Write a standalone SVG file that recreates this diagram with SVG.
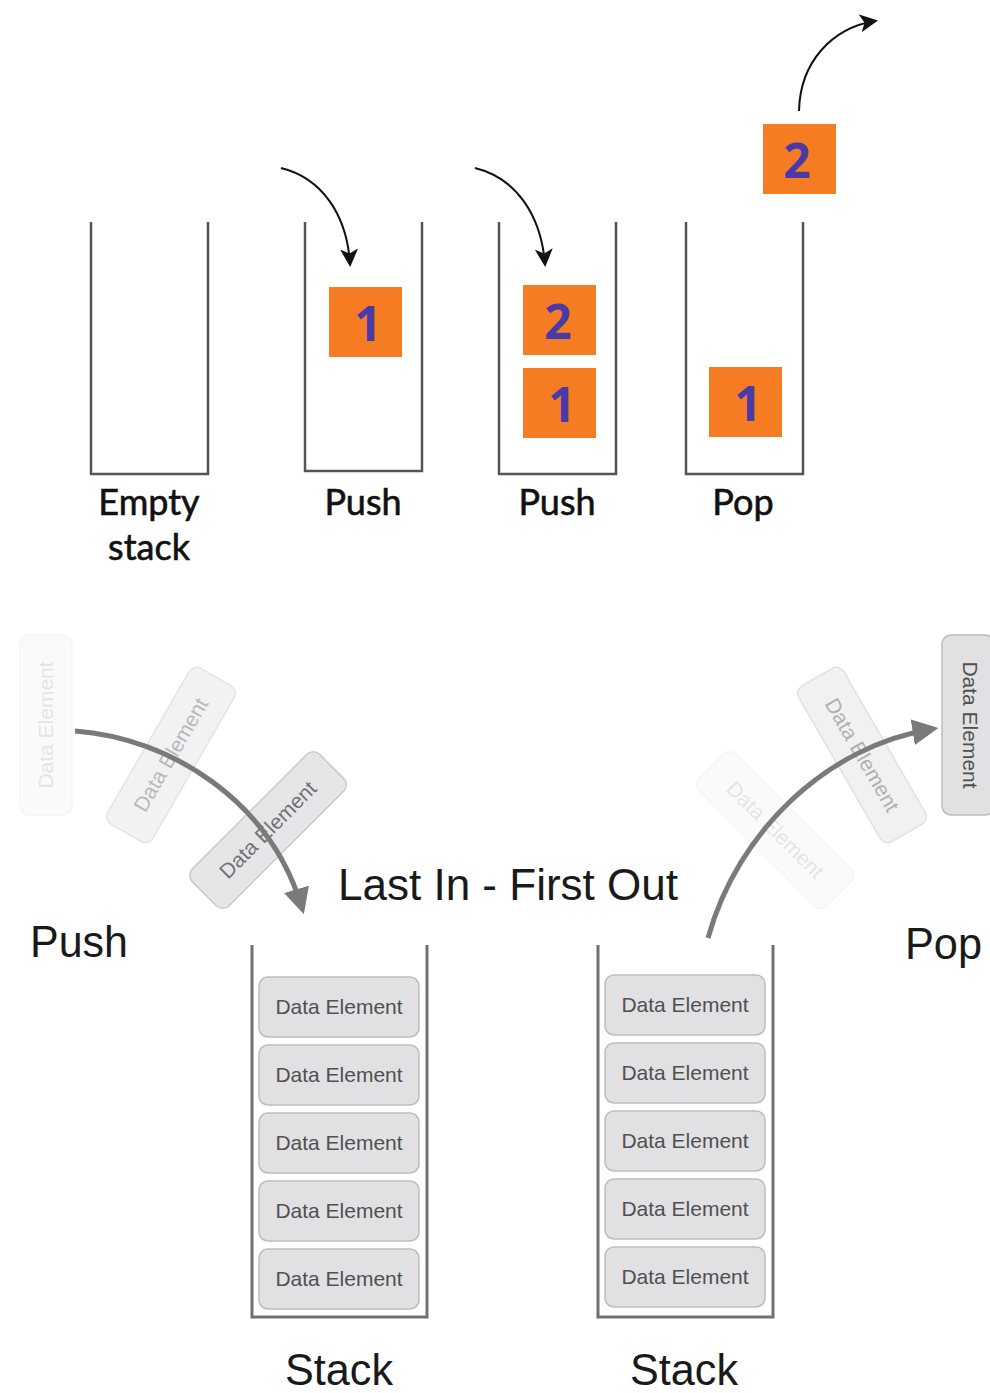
<svg xmlns="http://www.w3.org/2000/svg" width="990" height="1393" viewBox="0 0 990 1393">
  <style>
    .wall { fill: none; stroke: #555; stroke-width: 2.5; }
    .box { fill: #f57c22; }
    .num { font-family: "Open Sans", "DejaVu Sans", sans-serif; font-weight: 700; font-size: 48px; fill: #4a3aa8; text-anchor: middle; }
    .lbl { font-family: Lato, "Open Sans", sans-serif; font-size: 36px; fill: #111; text-anchor: middle; stroke: #111; stroke-width: 0.6; }
    .big { font-family: "Liberation Sans", Arial, sans-serif; font-size: 45px; fill: #1a1a1a; }
    .cont { fill: none; stroke: #707070; stroke-width: 3; }
    .el { fill: #e1e1e4; stroke: #bdbdc0; stroke-width: 1.5; }
    .elt { font-family: "Liberation Sans", Arial, sans-serif; font-size: 21px; fill: #505050; text-anchor: middle; }
    .blk { fill: none; stroke: #111; stroke-width: 2; }
    .gry { fill: none; stroke: #7a7a7a; stroke-width: 5; }
  </style>
  <defs>
    <marker id="headBlack" viewBox="0 0 12 12" refX="10" refY="6" markerWidth="18" markerHeight="18" markerUnits="userSpaceOnUse" orient="auto">
      <path d="M0,0 L12,6 L0,12 L3,6 Z" fill="#111"/>
    </marker>
    <marker id="headGray" viewBox="0 0 12 12" refX="9" refY="6" markerWidth="26" markerHeight="26" markerUnits="userSpaceOnUse" orient="auto">
      <path d="M0,0 L12,6 L0,12 Z" fill="#7a7a7a"/>
    </marker>
  </defs>

  <rect width="990" height="1393" fill="#fff"/>

  <!-- top row: four stack states -->
  <g id="empty-stack">
    <path class="wall" d="M91,222 V474 H208 V222"/>
    <text class="lbl" x="149" y="515">Empty</text>
    <text class="lbl" x="149" y="560">stack</text>
  </g>

  <g id="push-one">
    <path class="wall" d="M305,222 V471 H422 V222"/>
    <rect class="box" x="329" y="287" width="73" height="70"/>
    <text class="num" x="368" y="341">1</text>
    <text class="lbl" x="363" y="515">Push</text>
  </g>

  <g id="push-two">
    <path class="wall" d="M499,222 V474 H616 V222"/>
    <rect class="box" x="523" y="285" width="73" height="70"/>
    <text class="num" x="558" y="339">2</text>
    <rect class="box" x="523" y="368" width="73" height="70"/>
    <text class="num" x="562" y="422">1</text>
    <text class="lbl" x="557" y="515">Push</text>
  </g>

  <g id="pop-state">
    <path class="wall" d="M686,222 V474 H803 V222"/>
    <rect class="box" x="709" y="367" width="73" height="70"/>
    <text class="num" x="748" y="421">1</text>
    <rect class="box" x="763" y="124" width="73" height="70"/>
    <text class="num" x="797" y="178">2</text>
    <text class="lbl" x="743" y="515">Pop</text>
  </g>

  <!-- lower half: LIFO illustration -->
  <g id="titles">
    <text class="big" x="338" y="900" textLength="340" lengthAdjust="spacingAndGlyphs">Last In - First Out</text>
    <text class="big" x="30" y="957" textLength="98" lengthAdjust="spacingAndGlyphs">Push</text>
    <text class="big" x="905" y="959" textLength="77" lengthAdjust="spacingAndGlyphs">Pop</text>
    <text class="big" x="285" y="1385" textLength="108" lengthAdjust="spacingAndGlyphs">Stack</text>
    <text class="big" x="630" y="1385" textLength="108" lengthAdjust="spacingAndGlyphs">Stack</text>
  </g>

  <g id="stack-left">
    <path class="cont" d="M252,945 V1317 H427 V945"/>
    <rect class="el" x="259" y="977" width="160" height="60" rx="9"/>
    <text class="elt" x="339" y="1014">Data Element</text>
    <rect class="el" x="259" y="1045" width="160" height="60" rx="9"/>
    <text class="elt" x="339" y="1082">Data Element</text>
    <rect class="el" x="259" y="1113" width="160" height="60" rx="9"/>
    <text class="elt" x="339" y="1150">Data Element</text>
    <rect class="el" x="259" y="1181" width="160" height="60" rx="9"/>
    <text class="elt" x="339" y="1218">Data Element</text>
    <rect class="el" x="259" y="1249" width="160" height="60" rx="9"/>
    <text class="elt" x="339" y="1286">Data Element</text>
  </g>

  <g id="stack-right">
    <path class="cont" d="M598,945 V1317 H773 V945"/>
    <rect class="el" x="605" y="975" width="160" height="60" rx="9"/>
    <text class="elt" x="685" y="1012">Data Element</text>
    <rect class="el" x="605" y="1043" width="160" height="60" rx="9"/>
    <text class="elt" x="685" y="1080">Data Element</text>
    <rect class="el" x="605" y="1111" width="160" height="60" rx="9"/>
    <text class="elt" x="685" y="1148">Data Element</text>
    <rect class="el" x="605" y="1179" width="160" height="60" rx="9"/>
    <text class="elt" x="685" y="1216">Data Element</text>
    <rect class="el" x="605" y="1247" width="160" height="60" rx="9"/>
    <text class="elt" x="685" y="1284">Data Element</text>
  </g>

  <!-- elements in flight, fading along the push path -->
  <g id="push-ghost-1" opacity="0.15" transform="translate(46,725) rotate(-90)">
    <rect class="el" x="-90" y="-26" width="180" height="52" rx="9"/>
    <text class="elt" x="0" y="7">Data Element</text>
  </g>
  <g id="push-ghost-2" opacity="0.4" transform="translate(171,755) rotate(-60)">
    <rect class="el" x="-90" y="-26" width="180" height="52" rx="9"/>
    <text class="elt" x="0" y="7">Data Element</text>
  </g>
  <g id="push-ghost-3" opacity="0.8" transform="translate(268,830) rotate(-45)">
    <rect class="el" x="-90" y="-26" width="180" height="52" rx="9"/>
    <text class="elt" x="0" y="7">Data Element</text>
  </g>

  <!-- elements in flight along the pop path -->
  <g id="pop-ghost-1" opacity="0.15" transform="translate(775,830) rotate(45)">
    <rect class="el" x="-90" y="-26" width="180" height="52" rx="9"/>
    <text class="elt" x="0" y="7">Data Element</text>
  </g>
  <g id="pop-ghost-2" opacity="0.45" transform="translate(862,755) rotate(60)">
    <rect class="el" x="-90" y="-26" width="180" height="52" rx="9"/>
    <text class="elt" x="0" y="7">Data Element</text>
  </g>
  <g id="pop-out" transform="translate(970,725) rotate(90)">
    <rect class="el" x="-90" y="-24" width="180" height="52" rx="9"/>
    <text class="elt" x="0" y="7">Data Element</text>
  </g>

  <g id="connectors">
    <path class="blk" d="M281,168 C322,178 347,215 350,264" marker-end="url(#headBlack)"/>
    <path class="blk" d="M475,168 C516,178 541,215 545,264" marker-end="url(#headBlack)"/>
    <path class="blk" d="M799,111 C800,62 832,28 875,21" marker-end="url(#headBlack)"/>
    <path class="gry" d="M75,731 C170,738 270,800 302,908" marker-end="url(#headGray)"/>
    <path class="gry" d="M708,938 C738,830 828,746 932,729" marker-end="url(#headGray)"/>
  </g>
</svg>
